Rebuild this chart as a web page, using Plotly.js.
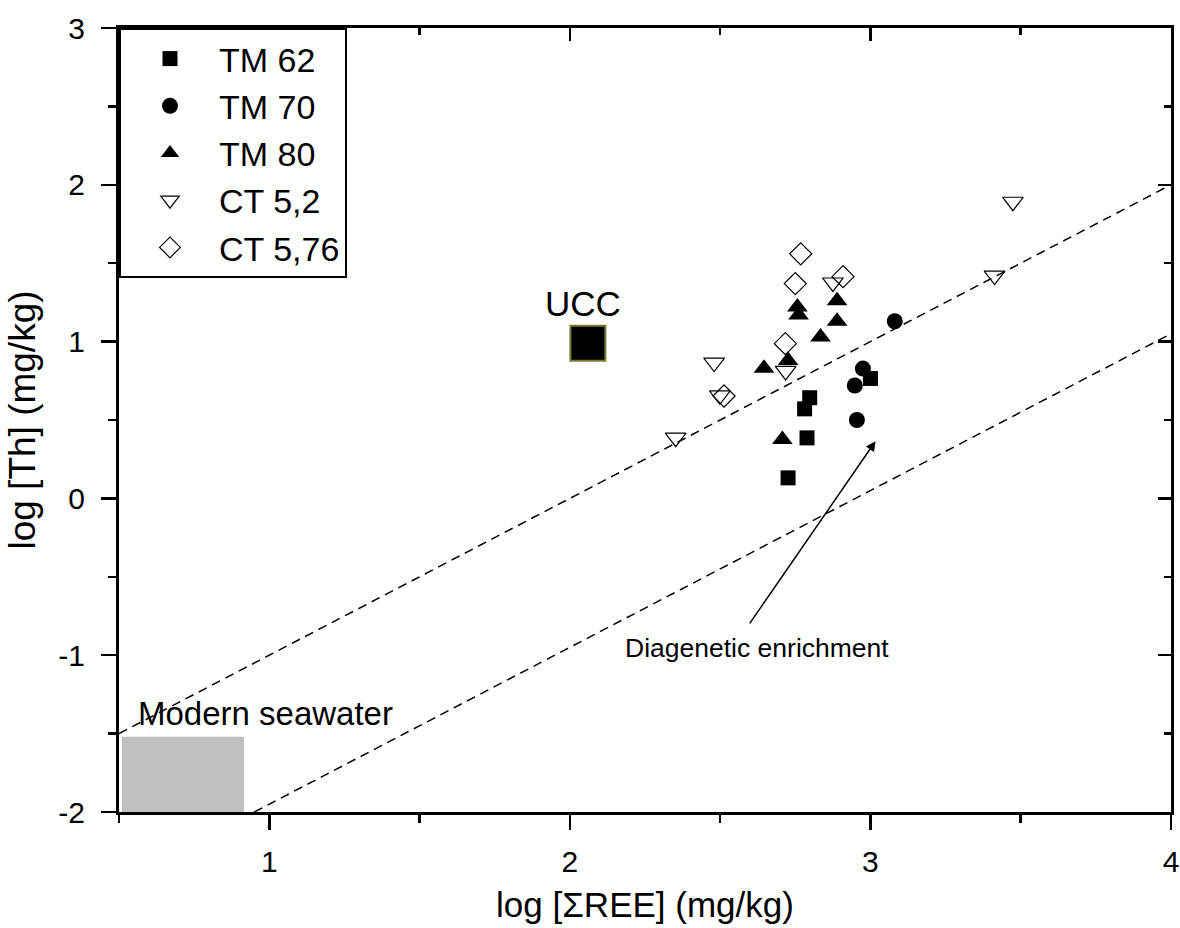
<!DOCTYPE html>
<html>
<head>
<meta charset="utf-8">
<script src="https://cdn.plot.ly/plotly-3.0.1.min.js"></script>
<style>html,body{margin:0;padding:0;background:#fff;}#chart{width:1180px;height:928px;}</style>
</head>
<body>
<div id="chart"></div>
<script>
// ---- data ----
const tm62X = [2.798, 2.781, 2.789, 2.726, 3.000];
const tm62Y = [0.642, 0.571, 0.386, 0.131, 0.765];

const tm70X = [3.081, 2.975, 2.948, 2.955];
const tm70Y = [1.13, 0.828, 0.72, 0.50];

const tm80X = [2.757, 2.761, 2.889, 2.889, 2.834, 2.646, 2.726, 2.707];
const tm80Y = [1.22, 1.17, 1.26, 1.13, 1.03, 0.83, 0.88, 0.375];

const ct52X = [2.480, 2.875, 2.718, 2.499, 2.352, 3.474, 3.413];
const ct52Y = [0.866, 1.377, 0.813, 0.657, 0.387, 1.892, 1.421];

const ct576X = [2.768, 2.750, 2.909, 2.717, 2.513];
const ct576Y = [1.56, 1.37, 1.414, 0.987, 0.653];

const uccX = [2.06];
const uccY = [0.99];

const upperLineX = [0.5, 4];
const upperLineY = [-1.5, 2];
const lowerLineX = [0.95, 4];
const lowerLineY = [-2, 1.05];

const seawaterX = [0.51, 0.916];
const seawaterY = [-2, -1.52];

const arrowTail = [2.595, -0.807];
const arrowHead = [3.017, 0.365];

const seriesNames = ['TM 62', 'TM 70', 'TM 80', 'CT 5,2', 'CT 5,76'];
const xTicks = [1, 2, 3, 4];
const xTickLabels = ['1', '2', '3', '4'];
const yTicks = [-2, -1, 0, 1, 2, 3];
const yTickLabels = ['-2', '-1', '0', '1', '2', '3'];

// ---- chart ----
const FONT = 'Liberation Sans, Arial, Helvetica, sans-serif';

const traces = [
  {x: upperLineX, y: upperLineY, mode: 'lines', showlegend: false, hoverinfo: 'skip',
   line: {color: '#000', width: 1.5, dash: '9px,6px'}},
  {x: lowerLineX, y: lowerLineY, mode: 'lines', showlegend: false, hoverinfo: 'skip',
   line: {color: '#000', width: 1.5, dash: '9px,6px'}},
  {x: uccX, y: uccY, mode: 'markers', showlegend: false,
   marker: {symbol: 'square', size: 35, color: '#000', line: {color: '#7a7a30', width: 2}}},
  {x: tm62X, y: tm62Y, mode: 'markers', name: seriesNames[0],
   marker: {symbol: 'square', size: 15, color: '#000'}},
  {x: tm70X, y: tm70Y, mode: 'markers', name: seriesNames[1],
   marker: {symbol: 'circle', size: 16, color: '#000'}},
  {x: tm80X, y: tm80Y, mode: 'markers', name: seriesNames[2],
   marker: {symbol: 'triangle-up', size: 18, color: '#000'}},
  {x: ct52X, y: ct52Y, mode: 'markers', name: seriesNames[3],
   marker: {symbol: 'triangle-down-open', size: 18, color: '#000', line: {width: 1.2}}},
  {x: ct576X, y: ct576Y, mode: 'markers', name: seriesNames[4],
   marker: {symbol: 'diamond-open', size: 17, color: '#000', line: {width: 1.2}}},
  {x: [], y: [], xaxis: 'x2', yaxis: 'y2', showlegend: false, hoverinfo: 'skip', mode: 'markers'}
];

const axisCommon = {
  showgrid: false, zeroline: false, showline: true, linecolor: '#000', linewidth: 3,
  tickcolor: '#000', tickwidth: 2.5, tickfont: {family: FONT, size: 30, color: '#000'}
};

const layout = {
  width: 1180, height: 928,
  margin: {l: 119, r: 9, t: 28, b: 116},
  paper_bgcolor: '#fff', plot_bgcolor: '#fff',
  font: {family: FONT, color: '#000'},
  showlegend: true,
  legend: {
    x: 0, y: 1, xanchor: 'left', yanchor: 'top', xref: 'paper', yref: 'paper',
    bgcolor: '#fff', bordercolor: '#000', borderwidth: 2,
    font: {family: FONT, size: 34, color: '#000'},
    itemwidth: 88, tracegroupgap: 0
  },
  xaxis: Object.assign({}, axisCommon, {
    range: [0.5, 4], tickmode: 'array', tickvals: xTicks, ticktext: xTickLabels,
    ticks: 'outside', ticklen: 15, ticklabelstandoff: 6,
    minor: {dtick: 0.5, ticks: 'outside', ticklen: 8, tickwidth: 2.5, tickcolor: '#000'},
    title: {text: 'log [ΣREE] (mg/kg)', font: {family: FONT, size: 35, color: '#000'}, standoff: 16}
  }),
  yaxis: Object.assign({}, axisCommon, {
    range: [-2, 3], tickmode: 'array', tickvals: yTicks, ticktext: yTickLabels,
    ticks: 'outside', ticklen: 15, ticklabelstandoff: 10,
    minor: {dtick: 0.5, ticks: 'outside', ticklen: 8, tickwidth: 2.5, tickcolor: '#000'},
    title: {text: 'log [Th] (mg/kg)', font: {family: FONT, size: 37, color: '#000'}, standoff: 12}
  }),
  xaxis2: Object.assign({}, axisCommon, {
    overlaying: 'x', side: 'top', range: [0.5, 4], tickmode: 'array', tickvals: xTicks,
    ticks: 'inside', ticklen: 13, showticklabels: false,
    minor: {dtick: 0.5, ticks: 'inside', ticklen: 7, tickwidth: 2.5, tickcolor: '#000'}
  }),
  yaxis2: Object.assign({}, axisCommon, {
    overlaying: 'y', side: 'right', range: [-2, 3], tickmode: 'array', tickvals: yTicks,
    ticks: 'inside', ticklen: 13, showticklabels: false,
    minor: {dtick: 0.5, ticks: 'inside', ticklen: 7, tickwidth: 2.5, tickcolor: '#000'}
  }),
  shapes: [
    {type: 'rect', xref: 'x', yref: 'y', x0: seawaterX[0], x1: seawaterX[1],
     y0: seawaterY[0], y1: seawaterY[1], fillcolor: '#c0c0c0', line: {width: 0}, layer: 'below'}
  ],
  annotations: [
    {x: 2.043, y: 1.245, xref: 'x', yref: 'y', text: 'UCC', showarrow: false,
     font: {family: FONT, size: 35, color: '#000'}},
    {x: 0.989, y: -1.374, xref: 'x', yref: 'y', text: 'Modern seawater', showarrow: false,
     font: {family: FONT, size: 33, color: '#000'}},
    {x: 2.622, y: -0.952, xref: 'x', yref: 'y', text: 'Diagenetic enrichment', showarrow: false,
     font: {family: FONT, size: 26.5, color: '#000'}},
    {x: arrowHead[0], y: arrowHead[1], ax: arrowTail[0], ay: arrowTail[1],
     xref: 'x', yref: 'y', axref: 'x', ayref: 'y', text: '', showarrow: true,
     arrowhead: 2, arrowsize: 1.3, arrowwidth: 1.5, arrowcolor: '#000'}
  ]
};

Plotly.newPlot('chart', traces, layout, {displayModeBar: false, staticPlot: true});
</script>
</body>
</html>
